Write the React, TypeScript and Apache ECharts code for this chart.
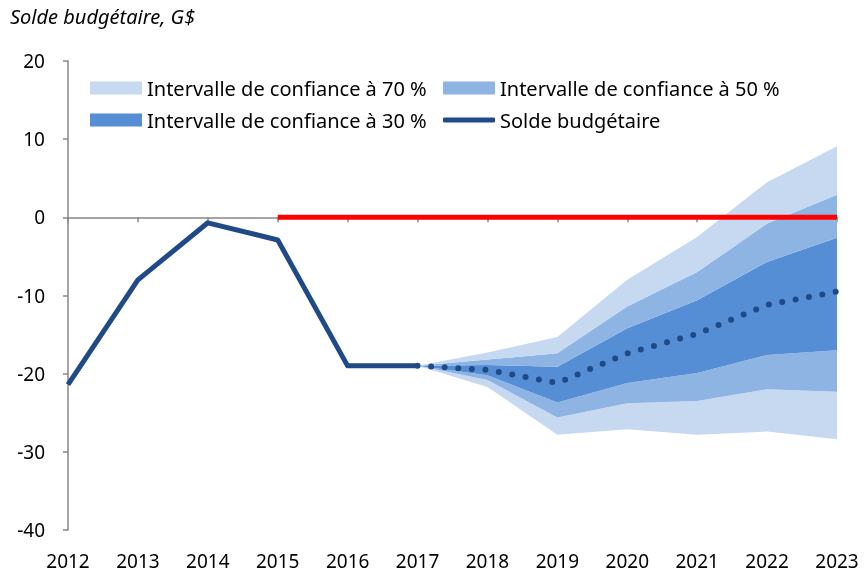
import React, { useEffect, useRef } from "react";
import * as echarts from "echarts";

const years = ["2012", "2013", "2014", "2015", "2016", "2017", "2018", "2019", "2020", "2021", "2022", "2023"];
const actual = [-21.4, -8.0, -0.7, -2.9, -19.0, -19.0, null, null, null, null, null, null];
const projection = [null, null, null, null, null, -19.0, -19.5, -21.2, -17.4, -14.9, -11.2, -9.5];
const target = [null, null, null, 0, 0, 0, 0, 0, 0, 0, 0, 0];
const upper70 = [null, null, null, null, null, -19.0, -17.3, -15.3, -8.0, -2.5, 4.5, 9.1];
const upper50 = [null, null, null, null, null, -19.0, -18.2, -17.4, -11.4, -7.0, -0.8, 2.9];
const upper30 = [null, null, null, null, null, -19.0, -18.9, -19.1, -14.2, -10.6, -5.7, -2.6];
const lower30 = [null, null, null, null, null, -19.0, -20.2, -23.7, -21.2, -19.9, -17.6, -17.0];
const lower50 = [null, null, null, null, null, -19.0, -20.8, -25.6, -23.8, -23.5, -22.0, -22.3];
const lower70 = [null, null, null, null, null, -19.0, -21.7, -27.8, -27.1, -27.8, -27.4, -28.4];
const yTicks = [-40, -30, -20, -10, 0, 10, 20];

const NAME70 = "Intervalle de confiance à 70 %";
const NAME50 = "Intervalle de confiance à 50 %";
const NAME30 = "Intervalle de confiance à 30 %";
const NAMELINE = "Solde budgétaire";

const C70 = "#C6D9F0";
const C50 = "#8EB4E3";
const C30 = "#558ED5";
const CLINE = "#1F4A87";
const FONT = "Noto Sans";

const diff = (a: (number | null)[], b: (number | null)[]) =>
  a.map((v, i) => (v == null || b[i] == null ? null : +(v - (b[i] as number)).toFixed(2)));

export default function App() {
  const ref = useRef<HTMLDivElement>(null);
  useEffect(() => {
    if (!ref.current) return;
    const chart = echarts.init(ref.current, null, { renderer: "svg" });
    const band = (name: string, data: (number | null)[], color: string, z: number) => ({
      name,
      type: "line",
      stack: "band",
      stackStrategy: "all",
      data,
      symbol: "none",
      color,
      lineStyle: { width: 0, opacity: 0 },
      areaStyle: { color, opacity: 1 },
      silent: true,
      z,
    });
    const legendText = { fontFamily: FONT, fontSize: 20, color: "#000" };
    const mkLegend = (name: string, left: number, top: number, color: string, isLine = false) => ({
      left,
      top,
      padding: 0,
      itemWidth: 52,
      itemHeight: isLine ? 5 : 13,
      itemGap: 0,
      selectedMode: false,
      textStyle: legendText,
      data: [{ name, icon: isLine ? "roundRect" : "rect", itemStyle: { color } }],
    });
    chart.setOption({
      animation: false,
      textStyle: { fontFamily: FONT },
      title: {
        text: "Solde budgétaire, G$",
        left: 10,
        top: 6,
        padding: 0,
        textStyle: { fontFamily: FONT, fontSize: 20, fontStyle: "italic", fontWeight: "normal", color: "#000" },
      },
      legend: [
        mkLegend(NAME70, 90, 78, C70),
        mkLegend(NAME50, 443, 78, C50),
        mkLegend(NAME30, 90, 110, C30),
        mkLegend(NAMELINE, 443, 110, CLINE, true),
      ],
      grid: { left: 68, right: 31, top: 61, bottom: 43 },
      xAxis: [
        {
          type: "category",
          data: years,
          boundaryGap: false,
          position: "bottom",
          axisLine: { show: false, onZero: false },
          axisTick: { show: false },
          axisLabel: { fontFamily: FONT, fontSize: 19, color: "#000", margin: 21 },
        },
        {
          type: "category",
          data: years,
          boundaryGap: false,
          position: "bottom",
          axisLine: { show: true, onZero: true, lineStyle: { color: "#878787", width: 1.5 } },
          axisTick: { show: true, length: 5, lineStyle: { color: "#878787", width: 1.5 } },
          axisLabel: { show: false },
        },
      ],
      yAxis: {
        type: "value",
        min: -40,
        max: 20,
        interval: 10,
        axisLine: { show: true, lineStyle: { color: "#878787", width: 1.5 } },
        axisTick: { show: true, length: 5, lineStyle: { color: "#878787", width: 1.5 } },
        splitLine: { show: false },
        axisLabel: {
          fontFamily: FONT,
          fontSize: 19,
          color: "#000",
          margin: 23,
          formatter: (v: number) => (yTicks.includes(v) ? String(v) : ""),
        },
      },
      series: [
        {
          name: "base",
          type: "line",
          stack: "band",
          stackStrategy: "all",
          data: lower70,
          symbol: "none",
          lineStyle: { width: 0, opacity: 0 },
          silent: true,
          z: 1,
        },
        band(NAME70, diff(lower50, lower70), C70, 1),
        band(NAME50, diff(lower30, lower50), C50, 1),
        band(NAME30, diff(upper30, lower30), C30, 1),
        band(NAME50, diff(upper50, upper30), C50, 1),
        band(NAME70, diff(upper70, upper50), C70, 1),
        {
          name: NAMELINE,
          type: "line",
          data: actual,
          symbol: "none",
          color: CLINE,
          lineStyle: { width: 5, color: CLINE, join: "round" },
          z: 3,
        },
        {
          name: "projection",
          type: "line",
          data: projection,
          symbol: "none",
          lineStyle: { width: 6, color: CLINE, type: [0, 13.6], cap: "round" },
          z: 3,
        },
        {
          name: "target",
          type: "line",
          data: target,
          symbol: "none",
          lineStyle: { width: 5, color: "#FF0000" },
          z: 4,
        },
      ],
    });
    return () => chart.dispose();
  }, []);
  return <div ref={ref} style={{ position: "fixed", left: 0, top: 0, width: 868, height: 573 }} />;
}
